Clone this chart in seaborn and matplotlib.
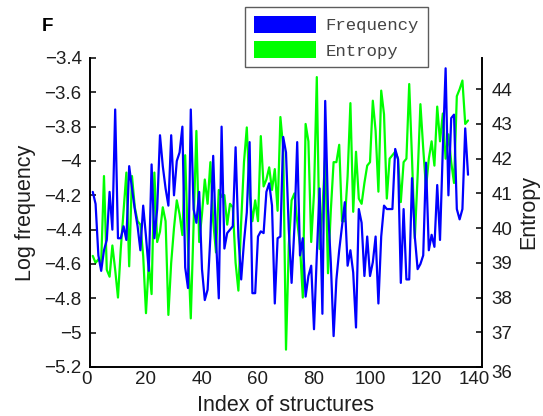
import numpy as np
import pandas as pd
import matplotlib
matplotlib.use("Agg")
import matplotlib.pyplot as plt
import matplotlib.transforms as mtransforms
from matplotlib.patches import Patch
import seaborn as sns

log_frequency = [
    -4.18, -4.25, -4.55, -4.64, -4.52, -4.46, -4.18, -4.40, -3.70, -4.45,
    -4.45, -4.38, -4.46, -4.03, -4.16, -4.28, -4.38, -4.52, -4.26, -4.44,
    -4.64, -4.02, -4.45, -4.28, -3.85, -4.03, -4.16, -4.26, -3.85, -4.20,
    -4.00, -3.95, -3.80, -4.62, -4.74, -3.70, -4.28, -4.36, -4.18, -4.63,
    -4.81, -4.75, -4.44, -3.97, -4.45, -4.80, -3.80, -4.51, -4.42, -4.40,
    -4.38, -3.92, -4.44, -4.69, -4.47, -4.30, -3.89, -4.77, -4.77, -4.44,
    -4.41, -4.42, -4.18, -4.13, -4.26, -4.83, -4.45, -4.44, -3.86, -3.95,
    -4.40, -4.71, -4.39, -3.89, -4.55, -4.45, -4.79, -4.67, -4.61, -4.98,
    -4.55, -4.16, -4.89, -3.65, -4.28, -4.59, -5.02, -4.69, -4.52, -4.38,
    -4.24, -4.61, -4.52, -4.65, -4.97, -4.28, -4.36, -4.67, -4.44, -4.67,
    -4.59, -4.44, -4.83, -4.44, -4.26, -4.28, -4.28, -4.28, -3.93, -3.99,
    -4.71, -4.28, -4.69, -4.69, -4.10, -4.44, -4.63, -4.60, -4.55, -4.01,
    -4.52, -4.43, -4.50, -4.14, -4.46, -3.93, -3.46, -4.20, -3.75, -3.73,
    -4.28, -4.34, -4.28, -3.81, -4.08,
]

entropy = [
    39.2, 39.0, 39.1, 39.0, 41.5, 38.8, 38.6, 39.5, 38.8, 38.0,
    39.4, 40.5, 41.6, 38.9, 41.5, 40.6, 40.2, 40.1, 39.2, 37.55,
    39.0, 38.1, 41.6, 39.6, 39.9, 40.6, 40.2, 37.5, 39.0, 40.0,
    40.8, 40.4, 39.8, 42.1, 39.5, 37.4, 40.1, 42.8, 39.6, 40.4,
    41.4, 40.7, 41.9, 40.2, 39.3, 41.1, 40.9, 40.95, 40.1, 40.7,
    40.6, 39.0, 38.2, 40.2, 41.9, 42.9, 41.0, 40.2, 40.8, 40.2,
    42.65, 41.2, 41.4, 41.75, 41.1, 41.7, 40.5, 43.2, 42.3, 36.5,
    39.5, 40.8, 41.0, 40.2, 39.5, 38.0, 43.0, 42.5, 39.6, 41.0,
    44.35, 39.4, 40.5, 42.1, 38.7, 40.5, 41.9, 41.9, 42.4, 40.2,
    40.2, 41.5, 43.6, 40.47, 42.2, 40.85, 40.7, 41.3, 41.8, 41.9,
    43.67, 42.8, 41.05, 43.96, 43.28, 40.85, 42.0, 42.1, 42.2, 42.0,
    40.75, 41.9, 42.0, 44.15, 42.0, 39.7, 41.5, 43.57, 42.3, 41.15,
    42.0, 42.5, 41.8, 43.5, 42.5, 43.3, 42.0, 42.7, 41.9, 41.3,
    43.8, 44.0, 44.25, 43.0, 43.1,
]

left_ticks = [-5.2, -5.0, -4.8, -4.6, -4.4, -4.2, -4.0, -3.8, -3.6, -3.4]
left_labels = ["\u22125.2", "\u22125", "\u22124.8", "\u22124.6", "\u22124.4",
               "\u22124.2", "\u22124", "\u22123.8", "\u22123.6", "\u22123.4"]
right_ticks = [36, 37, 38, 39, 40, 41, 42, 43, 44]
x_ticks = [0, 20, 40, 60, 80, 100, 120, 140]

sns.set_theme(style="white")
plt.rcParams["font.family"] = ["Liberation Sans", "DejaVu Sans"]
TXT = "#1e1e1e"

idx = np.arange(1, len(log_frequency) + 1)
df = pd.DataFrame({"index": idx, "freq": log_frequency, "entropy": entropy})

fig = plt.figure(figsize=(5.43, 4.16), dpi=100)
ax = fig.add_axes([0.1657, 0.1178, 0.722, 0.7428])
ax2 = ax.twinx()

sns.lineplot(data=df, x="index", y="freq", ax=ax, color="#0000ff", linewidth=1.6)
sns.lineplot(data=df, x="index", y="entropy", ax=ax2, color="#00ff00", linewidth=1.6)
ax.set_zorder(ax2.get_zorder() + 1)
ax.patch.set_visible(False)

ax.set_xlim(0, 140)
ax.set_ylim(-5.2, -3.4)
ax2.set_ylim(36, 44.9)
ax.set_xticks(x_ticks)
ax.set_yticks(left_ticks)
ax.set_yticklabels(left_labels)
ax2.set_yticks(right_ticks)

for a in (ax, ax2):
    a.spines["top"].set_visible(False)
    for s in ("left", "right", "bottom"):
        a.spines[s].set_color("black")
        a.spines[s].set_linewidth(1.4)
    a.tick_params(direction="in", length=4, width=1.1, labelsize=13.5,
                  colors="black", labelcolor=TXT)

ax.spines["right"].set_visible(False)
ax2.spines["left"].set_visible(False)
ax2.spines["bottom"].set_visible(False)
ax.tick_params(axis="y", right=False, pad=6)
ax.tick_params(axis="x", pad=3)
ax2.tick_params(axis="y", pad=7)

# MATLAB-like placement: end labels nudged inward
xlabels = ax.get_xticklabels()
xlabels[-1].set_transform(xlabels[-1].get_transform() +
                          mtransforms.ScaledTranslation(-8 / 100, 0, fig.dpi_scale_trans))
xlabels[0].set_transform(xlabels[0].get_transform() +
                         mtransforms.ScaledTranslation(-3 / 100, 0, fig.dpi_scale_trans))
ylabels2 = ax2.get_yticklabels()
ylabels2[0].set_transform(ylabels2[0].get_transform() +
                          mtransforms.ScaledTranslation(0, -5 / 100, fig.dpi_scale_trans))

ax.set_xlabel("Index of structures", fontsize=15.5, labelpad=5, color=TXT)
ax.set_ylabel("Log frequency", fontsize=15.5, labelpad=6, color=TXT)
ax2.set_ylabel("Entropy", fontsize=15.5, labelpad=4, color=TXT)

fig.text(0.087, 0.937, "F", fontsize=13.5, fontweight="bold", ha="center", va="center",
         color="black")

handles = [Patch(facecolor="#0000ff", edgecolor="none", label="Frequency"),
           Patch(facecolor="#00ff00", edgecolor="none", label="Entropy")]
leg = fig.legend(handles=handles, loc="upper left", bbox_to_anchor=(0.451, 0.983),
                 borderaxespad=0, frameon=True, fancybox=False,
                 prop={"family": "Liberation Mono", "size": 12.5},
                 handlelength=3.6, handleheight=1.15, borderpad=0.5,
                 labelspacing=0.45, handletextpad=0.55)
leg.get_frame().set_edgecolor("#333333")
leg.get_frame().set_linewidth(1.0)
for t in leg.get_texts():
    t.set_color("#444444")

fig.savefig("out.png", dpi=100, facecolor="white")
